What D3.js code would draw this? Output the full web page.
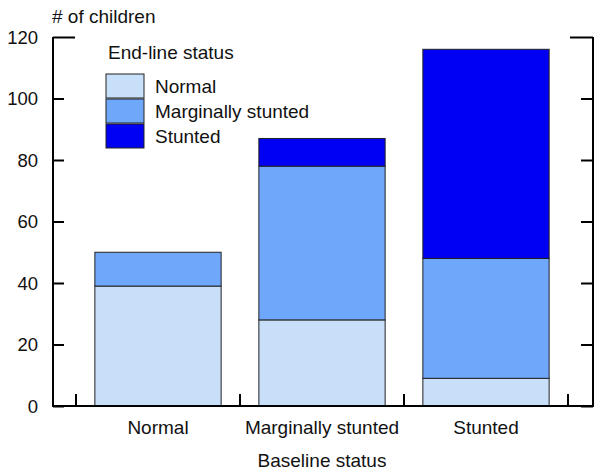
<!DOCTYPE html>
<html>
<head>
<meta charset="utf-8">
<script src="https://cdn.jsdelivr.net/npm/d3@7"></script>
<style>
  body { margin: 0; background: #fff; }
  text { font-family: "Liberation Sans", Arial, sans-serif; fill: #111; }
</style>
</head>
<body>
<div id="wrapper"></div>
<script>
const categories = ["Normal", "Marginally stunted", "Stunted"]
const seriesNames = ["Normal", "Marginally stunted", "Stunted"]
const normalValues = [39, 28, 9]
const marginalValues = [11, 50, 39]
const stuntedValues = [0, 9, 68]
const yTicks = [0, 20, 40, 60, 80, 100, 120]
const colors = ["#c8dffa", "#6fa7fa", "#0000f2"]

const table = categories.map((c, i) => ({
    category: c,
    "Normal": normalValues[i],
    "Marginally stunted": marginalValues[i],
    "Stunted": stuntedValues[i],
}))

let dimensions = {
    width: 604,
    height: 476,
    margins: { top: 37, right: 11, bottom: 70, left: 53 },
}
dimensions.boundedWidth = dimensions.width - dimensions.margins.left - dimensions.margins.right
dimensions.boundedHeight = dimensions.height - dimensions.margins.top - dimensions.margins.bottom

const svg = d3.select("#wrapper").append("svg")
    .attr("width", dimensions.width)
    .attr("height", dimensions.height)

const bounds = svg.append("g")
    .attr("transform", `translate(${dimensions.margins.left},${dimensions.margins.top})`)

// scales
const outerPad = 23
const xScale = d3.scaleBand()
    .domain(categories)
    .range([outerPad, dimensions.boundedWidth - 25])
    .paddingInner(0.23)
    .paddingOuter(0.115)

const yScale = d3.scaleLinear()
    .domain([0, 120])
    .range([dimensions.boundedHeight, 0])

const stacked = d3.stack().keys(seriesNames)(table)

// bars
bounds.append("g").selectAll("g")
    .data(stacked)
    .join("g")
        .attr("fill", (d, i) => colors[i])
    .selectAll("rect")
    .data(d => d.filter(p => p[1] - p[0] > 0))
    .join("rect")
        .attr("x", d => xScale(d.data.category))
        .attr("width", xScale.bandwidth())
        .attr("y", d => yScale(d[1]))
        .attr("height", d => yScale(d[0]) - yScale(d[1]))
        .attr("stroke", "#222")
        .attr("stroke-width", 1)

// axes
const yAxisLeft = bounds.append("g")
    .call(d3.axisRight(yScale).tickValues(yTicks).tickSize(11).tickFormat(""))
yAxisLeft.select(".domain").remove()
yAxisLeft.selectAll(".tick line").attr("stroke", "#000").attr("stroke-width", 2)
yAxisLeft.selectAll(".tick").filter(d => d === 120).select("line").attr("x2", 22)

yAxisLeft.selectAll(".tick").append("text")
    .attr("x", -15)
    .attr("dy", "0.35em")
    .attr("text-anchor", "end")
    .style("font-size", "18.5px")
    .text(d => d)

const yAxisRight = bounds.append("g")
    .attr("transform", `translate(${dimensions.boundedWidth},0)`)
    .call(d3.axisLeft(yScale).tickValues(yTicks).tickSize(12).tickFormat(""))
yAxisRight.select(".domain").remove()
yAxisRight.selectAll(".tick line").attr("stroke", "#000").attr("stroke-width", 2)
yAxisRight.selectAll(".tick").filter(d => d === 120).select("line").attr("x2", -23)

// frame lines (left, right, bottom)
bounds.append("path")
    .attr("d", `M0,0V${dimensions.boundedHeight}H${dimensions.boundedWidth}V0`)
    .attr("fill", "none")
    .attr("stroke", "#000")
    .attr("stroke-width", 2)

// bottom ticks at band boundaries
const step = xScale.step()
const boundaries = [0, 1, 2, 3].map(i => xScale(categories[0]) - xScale.paddingInner() * step / 2 + i * step)
bounds.append("g").selectAll("line")
    .data(boundaries)
    .join("line")
        .attr("x1", d => d)
        .attr("x2", d => d)
        .attr("y1", dimensions.boundedHeight)
        .attr("y2", dimensions.boundedHeight - 12)
        .attr("stroke", "#000")
        .attr("stroke-width", 2)

bounds.append("g").selectAll("text")
    .data(categories)
    .join("text")
        .attr("x", d => xScale(d) + xScale.bandwidth() / 2)
        .attr("y", dimensions.boundedHeight + 28)
        .attr("text-anchor", "middle")
        .style("font-size", "19px")
        .text(d => d)

// axis titles
svg.append("text")
    .attr("x", 52)
    .attr("y", 23)
    .style("font-size", "19px")
    .text("# of children")

svg.append("text")
    .attr("x", dimensions.margins.left + (xScale(categories[1]) + xScale.bandwidth() / 2))
    .attr("y", 467)
    .attr("text-anchor", "middle")
    .style("font-size", "19px")
    .text("Baseline status")

// legend
const legend = svg.append("g").attr("transform", "translate(106,45)")
legend.append("text")
    .attr("x", 2)
    .attr("y", 14)
    .style("font-size", "19px")
    .text("End-line status")

const items = legend.selectAll("g.item")
    .data(seriesNames)
    .join("g")
        .attr("class", "item")
        .attr("transform", (d, i) => `translate(0,${29 + i * 25})`)
items.append("rect")
    .attr("width", 38)
    .attr("height", 24)
    .attr("fill", (d, i) => colors[i])
    .attr("stroke", "#222")
    .attr("stroke-width", 1)
items.append("text")
    .attr("x", 49)
    .attr("y", 19)
    .style("font-size", "19px")
    .text(d => d)
</script>
</body>
</html>
